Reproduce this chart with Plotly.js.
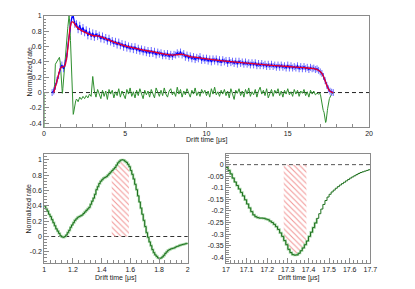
<!DOCTYPE html>
<html><head><meta charset="utf-8">
<script src="https://cdn.plot.ly/plotly-3.0.1.min.js"></script>
<style>html,body{margin:0;padding:0;background:#fff}#chart{width:415px;height:289px}</style>
</head><body><div id="chart"></div>
<script>
// ---------- data ----------
// measured rate (blue), bins of 0.1 us starting at 0.5 us
const blueStart = 0.5, blueStep = 0.1;
const blueV = [
 0, 0.02, 0.08, 0.16, 0.22, 0.31, 0.36, 0.31, 0.38, 0.47,
 0.66, 0.84, 0.97, 1.0, 0.89, 0.90, 0.82, 0.88, 0.80, 0.85,
 0.78, 0.82, 0.74, 0.80, 0.73, 0.78, 0.72, 0.77, 0.73, 0.75,
 0.70, 0.74, 0.69, 0.72, 0.67, 0.71, 0.66, 0.68, 0.64, 0.67,
 0.62, 0.66, 0.61, 0.64, 0.59, 0.63, 0.58, 0.61, 0.57, 0.60,
 0.56, 0.60, 0.55, 0.58, 0.54, 0.57, 0.53, 0.56, 0.52, 0.55,
 0.51, 0.55, 0.51, 0.54, 0.49, 0.53, 0.50, 0.52, 0.48, 0.51,
 0.48, 0.51, 0.47, 0.50, 0.47, 0.50, 0.49, 0.52, 0.50, 0.53,
 0.49, 0.51, 0.46, 0.49, 0.45, 0.48, 0.44, 0.47, 0.43, 0.46,
 0.44, 0.47, 0.42, 0.45, 0.42, 0.45, 0.41, 0.44, 0.40, 0.44,
 0.41, 0.44, 0.40, 0.43, 0.39, 0.43, 0.40, 0.42, 0.38, 0.42,
 0.39, 0.41, 0.38, 0.41, 0.37, 0.41, 0.38, 0.40, 0.37, 0.40,
 0.37, 0.39, 0.36, 0.39, 0.36, 0.39, 0.35, 0.38, 0.35, 0.38,
 0.35, 0.37, 0.34, 0.37, 0.34, 0.37, 0.34, 0.36, 0.33, 0.36,
 0.33, 0.36, 0.33, 0.35, 0.32, 0.36, 0.32, 0.35, 0.32, 0.34,
 0.32, 0.35, 0.31, 0.34, 0.31, 0.34, 0.31, 0.33, 0.30, 0.33,
 0.31, 0.32, 0.30, 0.31, 0.29, 0.27, 0.25, 0.21, 0.155, 0.095,
 0.048, 0.018, 0.005, 0
];
// smooth fit (red)
const fitT = [0.6, 0.8, 1.0, 1.1, 1.2, 1.3, 1.4, 1.5, 1.6, 1.7, 1.8, 2.0, 2.3, 2.6, 3.0, 3.3, 3.6, 4.0, 4.5, 5.0, 5.5, 6.0, 6.5, 7.0, 7.5, 8.0, 8.5, 9.0, 9.5, 10, 11, 12, 13, 14, 15, 16, 16.5, 16.8, 17.0, 17.1, 17.2, 17.3, 17.4, 17.5, 17.6, 17.7, 17.8];
const fitV = [0, 0.15, 0.31, 0.335, 0.335, 0.36, 0.46, 0.64, 0.84, 0.92, 0.92, 0.86, 0.81, 0.78, 0.745, 0.74, 0.72, 0.685, 0.645, 0.61, 0.585, 0.56, 0.54, 0.52, 0.50, 0.49, 0.50, 0.47, 0.455, 0.44, 0.415, 0.395, 0.375, 0.355, 0.34, 0.325, 0.315, 0.30, 0.275, 0.25, 0.21, 0.155, 0.095, 0.048, 0.018, 0.005, 0];

// derivative (green): early part, explicit times
const derivEarlyT = [0, 0, null, 0.6, 0.65, 0.7, 0.8, 0.9, 0.95];
const derivEarlyV = [-1, 0, null, 0, 0.1, 0.37, 0.41, 0.44, 0.46];
// fine bins 1.00 .. 2.00 us (0.01 us)
const fineAStart = 1.0, fineStep = 0.01;
const fineAV = [
 0.39, 0.36, 0.33, 0.29, 0.26, 0.22, 0.18, 0.14, 0.10, 0.07,
 0.04, 0.01, -0.005, -0.01, 0.0, 0.02, 0.05, 0.08, 0.12, 0.15,
 0.18, 0.21, 0.23, 0.25, 0.26, 0.27, 0.28, 0.30, 0.32, 0.34,
 0.36, 0.38, 0.42, 0.46, 0.50, 0.55, 0.61, 0.65, 0.69, 0.72,
 0.74, 0.76, 0.77, 0.78, 0.80, 0.82, 0.84, 0.86, 0.88, 0.90,
 0.93, 0.96, 0.98, 0.995, 1.0, 0.995, 0.98, 0.965, 0.94, 0.91,
 0.86, 0.81, 0.75, 0.68, 0.61, 0.53, 0.45, 0.37, 0.29, 0.21,
 0.13, 0.05, -0.01, -0.07, -0.12, -0.17, -0.21, -0.24, -0.26, -0.28,
 -0.285, -0.28, -0.265, -0.245, -0.22, -0.20, -0.18, -0.17, -0.16, -0.155,
 -0.15, -0.14, -0.13, -0.125, -0.115, -0.11, -0.105, -0.10, -0.095, -0.09,
 -0.085
];
// coarse bins 2.1 .. 16.9 us (0.1 us)
const midStart = 2.1, midStep = 0.1;
const midV = [
 -0.12, -0.06, -0.09, -0.05, -0.08, -0.04, -0.07, -0.02, -0.05, 0.21,
 0.02, -0.06, 0.04, -0.03, -0.08, 0.03, -0.05, 0.02, -0.09, 0.04,
 -0.02, 0.03, -0.07, 0.01, -0.04, 0.05, -0.06, 0.02, -0.03, -0.08,
 0.04, -0.02, 0.06, -0.05, 0.01, -0.07, 0.03, -0.04, 0.05, -0.02,
 -0.08, 0.03, -0.03, 0.02, -0.06, 0.04, -0.01, -0.07, 0.06, 0.0,
 -0.05, 0.03, -0.04, 0.06, -0.02, -0.06, 0.02, 0.05, -0.03, 0.01,
 -0.05, 0.07, -0.02, 0.04, -0.06, 0.02, -0.03, 0.05, -0.01, -0.06,
 0.03, -0.02, 0.06, -0.04, 0.01, -0.05, 0.04, -0.01, 0.03, -0.04,
 0.02, -0.06, 0.05, -0.02, 0.07, -0.03, 0.01, -0.05, 0.03, -0.02,
 0.04, -0.04, 0.02, -0.07, 0.05, -0.03, -0.09, 0.03, -0.01, 0.05,
 -0.04, 0.02, -0.06, 0.04, -0.02, 0.06, -0.05, 0.01, -0.03, 0.04,
 -0.06, 0.02, 0.07, -0.02, 0.03, -0.04, 0.05, -0.07, -0.02, 0.04,
 -0.05, 0.03, -0.01, 0.05, -0.04, 0.02, -0.06, 0.03, -0.02, 0.05,
 -0.03, 0.01, -0.05, 0.04, -0.02, 0.03, -0.05, 0.02, -0.01, 0.04,
 -0.04, 0.01, -0.06, 0.03, -0.02, 0.02, -0.03, -0.01, -0.02
];
// fine bins 17.00 .. 17.70 us (0.01 us)
const fineBStart = 17.0;
const fineBV = [
 -0.012, -0.025, -0.04, -0.058, -0.075, -0.09, -0.105, -0.12, -0.135, -0.152,
 -0.17, -0.187, -0.203, -0.217, -0.225, -0.229, -0.231, -0.231, -0.232, -0.235,
 -0.238, -0.244, -0.25, -0.258, -0.268, -0.28, -0.295, -0.31, -0.328, -0.346,
 -0.366, -0.38, -0.389, -0.391, -0.39, -0.383, -0.372, -0.36, -0.346, -0.33,
 -0.31, -0.292, -0.272, -0.252, -0.232, -0.212, -0.192, -0.172, -0.155, -0.14,
 -0.128, -0.118, -0.11, -0.102, -0.095, -0.088, -0.082, -0.076, -0.07, -0.064,
 -0.058, -0.053, -0.048, -0.043, -0.038, -0.034, -0.031, -0.028, -0.025, -0.022,
 -0.019
];
const derivTailT = [17.8, 17.85];
const derivTailV = [-0.004, 0];

// windows highlighted (hatched)
const hatchA = [1.47, 1.59];
const hatchB = [17.28, 17.39];
const bandB = [17.0, 17.44];

// tick labels
const topXTicks = [0, 5, 10, 15, 20];
const topXLabels = ['0', '5', '10', '15', '20'];
const topYTicks = [-0.4, -0.2, 0, 0.2, 0.4, 0.6, 0.8, 1];
const topYLabels = ['-0.4', '-0.2', '0', '0.2', '0.4', '0.6', '0.8', '1'];
const blXTicks = [1, 1.2, 1.4, 1.6, 1.8, 2];
const blXLabels = ['1', '1.2', '1.4', '1.6', '1.8', '2'];
const blYTicks = [-0.2, 0, 0.2, 0.4, 0.6, 0.8, 1];
const blYLabels = ['-0.2', '0', '0.2', '0.4', '0.6', '0.8', '1'];
const brXTicks = [17, 17.1, 17.2, 17.3, 17.4, 17.5, 17.6, 17.7];
const brXLabels = ['17', '17.1', '17.2', '17.3', '17.4', '17.5', '17.6', '17.7'];
const brYTicks = [-0.4, -0.35, -0.3, -0.25, -0.2, -0.15, -0.1, -0.05, 0];
const brYLabels = ['-0.4', '-0.35', '-0.3', '-0.25', '-0.2', '-0.15', '-0.1', '-0.05', '0'];
const xTitle = 'Drift time [μs]';
const yTitle = 'Normalized rate';

// ---------- build ----------
const grid = (s, d, n) => Array.from({length: n}, (_, i) => +(s + i * d).toFixed(3));
const blueT = grid(blueStart, blueStep, blueV.length);
const fineAT = grid(fineAStart, fineStep, fineAV.length);
const midT = grid(midStart, midStep, midV.length);
const fineBT = grid(fineBStart, fineStep, fineBV.length);
const derivT = [].concat(derivEarlyT, fineAT, midT, fineBT, derivTailT);
const derivV = [].concat(derivEarlyV, fineAV, midV, fineBV, derivTailV);
function sub(t, v, w) {
  const x = [], y = [];
  t.forEach((tt, i) => { if (tt >= w[0] - 1e-9 && tt <= w[1] + 1e-9) { x.push(tt); y.push(v[i]); } });
  return {x, y};
}
const hA = sub(fineAT, fineAV, hatchA);
const hB = sub(fineBT, fineBV, hatchB);
const bB = sub(fineBT, fineBV, bandB);

const GREEN_TOP = '#2f8f2f', GREEN_DARK = '#1d6f1d', GREEN_BAND = '#a6d6a6';
const hatchPat = {shape: '\\', fgcolor: '#f29a9a', bgcolor: 'rgba(255,255,255,0)', size: 4, solidity: 0.28};

const traces = [
  {x: derivT, y: derivV, xaxis: 'x', yaxis: 'y', mode: 'lines', line: {color: GREEN_TOP, width: 1}, connectgaps: false},
  {x: blueT, y: blueV, xaxis: 'x', yaxis: 'y', mode: 'lines', line: {color: '#0000ff', width: 1.2},
   error_y: {type: 'constant', value: 0.045, color: '#6a6aff', thickness: 1, width: 0}},
  {x: fitT, y: fitV, xaxis: 'x', yaxis: 'y', mode: 'lines', line: {color: '#e8002a', width: 1.3, shape: 'spline', smoothing: 0.6}},
  // bottom left
  {x: hA.x, y: hA.y, xaxis: 'x2', yaxis: 'y2', mode: 'lines', line: {width: 0, shape: 'hv'}, fill: 'tozeroy', fillcolor: 'rgba(0,0,0,0)', fillpattern: hatchPat},
  {x: fineAT, y: fineAV, xaxis: 'x2', yaxis: 'y2', mode: 'lines', line: {color: GREEN_BAND, width: 2.2, shape: 'hv'}},
  {x: fineAT, y: fineAV, xaxis: 'x2', yaxis: 'y2', mode: 'lines', line: {color: GREEN_DARK, width: 1, shape: 'hv'}},
  // bottom right
  {x: hB.x, y: hB.y, xaxis: 'x3', yaxis: 'y3', mode: 'lines', line: {width: 0, shape: 'hv'}, fill: 'tozeroy', fillcolor: 'rgba(0,0,0,0)', fillpattern: hatchPat},
  {x: bB.x, y: bB.y, xaxis: 'x3', yaxis: 'y3', mode: 'lines', line: {color: GREEN_BAND, width: 2.2, shape: 'hv'}},
  {x: fineBT, y: fineBV, xaxis: 'x3', yaxis: 'y3', mode: 'lines', line: {color: GREEN_DARK, width: 1, shape: 'hv'}}
];

const FONT = '"Liberation Sans", Arial, Helvetica, sans-serif';
const AXC = '#8a8a8a';
function ax(extra) {
  return Object.assign({
    showline: true, mirror: true, linecolor: AXC, linewidth: 1,
    ticks: 'inside', ticklen: 5, tickwidth: 1, tickcolor: AXC,
    showgrid: false, zeroline: false, fixedrange: true,
    tickmode: 'array', tickfont: {family: FONT, size: 7, color: '#222'}
  }, extra);
}
function minor(d, t0) { return {ticks: 'inside', ticklen: 2.5, tickcolor: AXC, dtick: d, tick0: t0, showgrid: false}; }

const layout = {
  width: 415, height: 289, margin: {l: 0, r: 0, t: 0, b: 0},
  paper_bgcolor: '#fff', plot_bgcolor: '#fff', showlegend: false,
  font: {family: FONT, size: 7, color: '#222'},
  xaxis: ax({domain: [0.1060, 0.8892], range: [0, 20], anchor: 'y', tickvals: topXTicks, ticktext: topXLabels, minor: minor(1, 0)}),
  yaxis: ax({domain: [0.5606, 0.9446], range: [-0.45, 1.0], anchor: 'x', tickvals: topYTicks, ticktext: topYLabels, minor: minor(0.04, 0)}),
  xaxis2: ax({domain: [0.1067, 0.4523], range: [1, 2], anchor: 'y2', tickvals: blXTicks, ticktext: blXLabels, minor: minor(0.04, 1)}),
  yaxis2: ax({domain: [0.0900, 0.4671], range: [-0.345, 1.075], anchor: 'x2', tickvals: blYTicks, ticktext: blYLabels, minor: minor(0.04, 0)}),
  xaxis3: ax({domain: [0.5446, 0.8923], range: [17, 17.7], anchor: 'y3', tickvals: brXTicks, ticktext: brXLabels, minor: minor(0.02, 17)}),
  yaxis3: ax({domain: [0.0900, 0.4671], range: [-0.425, 0.046], anchor: 'x3', tickvals: brYTicks, ticktext: brYLabels, minor: minor(0.01, 0)}),
  shapes: [
    {type: 'line', layer: 'below', xref: 'x domain', yref: 'y', x0: 0, x1: 1, y0: 0, y1: 0, line: {color: '#222', width: 1, dash: '4px,3px'}},
    {type: 'line', layer: 'below', xref: 'x2 domain', yref: 'y2', x0: 0, x1: 1, y0: 0, y1: 0, line: {color: '#333', width: 1, dash: '4px,3px'}},
    {type: 'line', layer: 'below', xref: 'x3 domain', yref: 'y3', x0: 0, x1: 1, y0: 0, y1: 0, line: {color: '#555', width: 1, dash: '4px,3px'}}
  ],
  annotations: [
    {text: xTitle, xref: 'paper', yref: 'paper', x: 0.4976, y: 0.5156, xanchor: 'center', yanchor: 'middle', showarrow: false, font: {family: FONT, size: 7, color: '#222'}},
    {text: yTitle, xref: 'paper', yref: 'paper', x: 0.0699, y: 0.7526, xanchor: 'center', yanchor: 'middle', textangle: -90, showarrow: false, font: {family: FONT, size: 7, color: '#222'}},
    {text: xTitle, xref: 'paper', yref: 'paper', x: 0.2795, y: 0.0391, xanchor: 'center', yanchor: 'middle', showarrow: false, font: {family: FONT, size: 7, color: '#222'}},
    {text: yTitle, xref: 'paper', yref: 'paper', x: 0.0699, y: 0.2785, xanchor: 'center', yanchor: 'middle', textangle: -90, showarrow: false, font: {family: FONT, size: 7, color: '#222'}},
    {text: xTitle, xref: 'paper', yref: 'paper', x: 0.7181, y: 0.0391, xanchor: 'center', yanchor: 'middle', showarrow: false, font: {family: FONT, size: 7, color: '#222'}}
  ]
};

Plotly.newPlot('chart', traces, layout, {staticPlot: true, displayModeBar: false});
</script></body></html>
